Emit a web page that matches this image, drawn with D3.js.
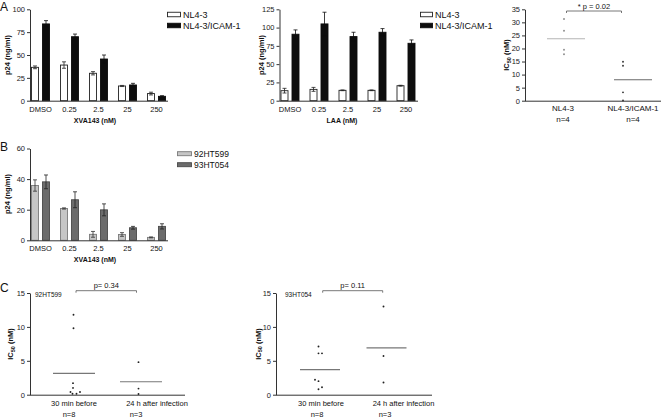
<!DOCTYPE html>
<html><head><meta charset="utf-8">
<script src="https://cdn.jsdelivr.net/npm/d3@7"></script>
<style>html,body{margin:0;padding:0;background:#fff}svg{display:block}</style>
</head><body>
<script>
// ---------- DATA ----------
const concCats = ["DMSO", "0.25", "2.5", "25", "250"];
const seriesA = ["NL4-3", "NL4-3/ICAM-1"];
const xvaNL43 = [36.5, 39, 30, 16.1, 7.8];
const xvaNL43Err = [1.5, 3.5, 1.8, 0.6, 1.5];
const xvaICAM = [84, 70, 45.6, 17.2, 4.8];
const xvaICAMErr = [3.6, 2.9, 4.4, 1.8, 0.7];
const laaNL43 = [13.7, 15.5, 14.2, 14.2, 20.5];
const laaNL43Err = [3.2, 2.7, 0.5, 0.5, 0.6];
const laaICAM = [90.9, 105, 87.7, 93.6, 78.5];
const laaICAMErr = [5.9, 16, 5.9, 5, 4.6];

const ic50Cats = ["NL4-3", "NL4-3/ICAM-1"];
const ic50N = ["n=4", "n=4"];
const ic50NL43 = [31.3, 26.8, 19.5, 17.8];
const ic50ICAM = [14.9, 13.4, 3.2, 0.1];
const ic50Means = [23.7, 8.0];
const ic50P = "* p = 0.02";

const seriesB = ["92HT599", "93HT054"];
const b599 = [35.8, 20.8, 3.9, 3.8, 1.9];
const b599Err = [3.7, 0.4, 1.9, 1.2, 0.3];
const b054 = [38.2, 26.5, 19.9, 8.2, 9.1];
const b054Err = [4.5, 5.2, 3.9, 0.9, 1.7];

const timeCats = ["30   min before", "24  h after infection"];
const timeN = ["n=8", "n=3"];
const c599Before = [11.8, 9.8, 1.7, 1.0, 0.4, 0.15, 0.15, 0.4];
const c599After = [4.8, 0.9, 0.1];
const c599Means = [3.15, 1.9];
const c599P = "p= 0.34";
const c054Before = [7.1, 6.1, 6.1, 2.2, 2.0, 1.1, 0.8];
const c054After = [13.0, 5.7, 1.8];
const c054Means = [3.7, 6.9];
const c054P = "p= 0.11";

const ticksA1 = [0, 25, 50, 75, 100];
const ticksA2 = [0, 25, 50, 75, 100, 125];
const ticksA3 = [0, 5, 10, 15, 20, 25, 30, 35];
const ticksB = [0, 20, 40, 60];
const ticksC = [0, 5, 10, 15];

// ---------- STYLE / LAYOUT ----------
const FONT = "'Liberation Sans', Arial, Helvetica, sans-serif";
const AX = "#333";
const W = 664, H = 418;
const svg = d3.select("body").append("svg").attr("width", W).attr("height", H)
  .style("font-family", FONT);
svg.append("rect").attr("width", W).attr("height", H).attr("fill", "#fff");

function yAxis(g, y, x, ticks) {
  const a = g.append("g").attr("transform", `translate(${x},0)`)
    .call(d3.axisLeft(y).tickValues(ticks).tickSize(3).tickPadding(2).tickSizeOuter(0));
  a.select(".domain").attr("stroke", AX).attr("stroke-width", 1);
  a.selectAll(".tick line").attr("stroke", AX);
  a.selectAll(".tick text").attr("fill", "#222").style("font-size", "7.5px").style("font-family", FONT);
  return a;
}
function xLine(g, y, x0, x1) {
  g.append("line").attr("x1", x0).attr("x2", x1).attr("y1", y(0) + 0.5).attr("y2", y(0) + 0.5)
    .attr("stroke", AX).attr("stroke-width", 1);
}
function yTitle(g, x, yc, parts) {
  const t = g.append("text").attr("transform", `translate(${x},${yc}) rotate(-90)`)
    .attr("text-anchor", "middle").style("font-size", "7.5px").style("font-weight", "bold").attr("fill", "#111");
  parts.forEach(p => {
    const ts = t.append("tspan").text(p.t);
    if (p.sub) ts.style("font-size", "5.5px").attr("dy", "1.5");
    if (p.after) ts.attr("dy", "-1.5");
  });
}
function text(g, x, y, s, size, anchor = "middle", weight = "normal") {
  return g.append("text").attr("x", x).attr("y", y).attr("text-anchor", anchor)
    .style("font-size", size + "px").style("font-weight", weight).attr("fill", "#111").text(s);
}

function barPanel(opts) {
  const g = svg.append("g");
  const { axisX, axisEnd, y, ticks, series } = opts;
  const off = axisX - 30;
  const x0 = d3.scaleBand().domain(concCats).range([26 + off, 171 + off])
    .paddingInner(10 / 29).paddingOuter(5 / 29);
  const x1 = d3.scaleBand().domain(series.map(s => s.name)).range([0, x0.bandwidth()])
    .paddingInner(3 / 11);
  series.forEach(s => {
    concCats.forEach((c, i) => {
      const bx = x0(c) + x1(s.name);
      g.append("rect").attr("x", bx + 0.5).attr("y", y(s.vals[i]))
        .attr("width", x1.bandwidth() - 1).attr("height", y(0) - y(s.vals[i]))
        .attr("fill", s.fill).attr("stroke", s.stroke).attr("stroke-width", 0.9);
    });
  });
  series.forEach(s => {
    concCats.forEach((c, i) => {
      const cx = x0(c) + x1(s.name) + x1.bandwidth() / 2;
      const v = s.vals[i], e = s.errs[i];
      const top = y(v + e), bot = y(Math.max(0, v - e));
      g.append("line").attr("x1", cx).attr("x2", cx).attr("y1", top).attr("y2", bot)
        .attr("stroke", s.err).attr("stroke-width", 0.8);
      [top, bot].forEach(yy => g.append("line").attr("x1", cx - 2).attr("x2", cx + 2)
        .attr("y1", yy).attr("y2", yy).attr("stroke", s.err).attr("stroke-width", 0.8));
    });
  });
  yAxis(g, y, axisX, ticks);
  xLine(g, y, axisX, axisEnd);
  concCats.forEach(c => text(g, x0(c) + x0.bandwidth() / 2, y(0) + 11, c, 7.5));
  return g;
}

// ---------- PANEL A1 ----------
const yA1 = d3.scaleLinear().domain([0, 100]).range([100.7, 9.3]);
const gA1 = barPanel({ axisX: 30, axisEnd: 168, y: yA1, ticks: ticksA1,
  series: [
    { name: seriesA[0], vals: xvaNL43, errs: xvaNL43Err, fill: "#fff", stroke: "#222", err: "#222" },
    { name: seriesA[1], vals: xvaICAM, errs: xvaICAMErr, fill: "#0d0d0d", stroke: "#0d0d0d", err: "#0d0d0d" }
  ] });
yTitle(gA1, 10, 55, [{ t: "p24 (ng/ml)" }]);
text(gA1, 95, 122.5, "XVA143 (nM)", 7, "middle", "bold");
text(svg, 0, 10.5, "A", 12, "start");

function legend(g, x, y0, dy, items, size, boxW, boxH) {
  items.forEach((it, i) => {
    const yy = y0 + i * dy;
    g.append("rect").attr("x", x + 0.5).attr("y", yy - boxH / 2).attr("width", boxW).attr("height", boxH)
      .attr("fill", it.fill).attr("stroke", it.stroke).attr("stroke-width", 0.9);
    text(g, x + boxW + 3, yy + size * 0.35, it.name, size, "start");
  });
}
legend(gA1, 167, 14.5, 11, [
  { name: seriesA[0], fill: "#fff", stroke: "#222" },
  { name: seriesA[1], fill: "#0d0d0d", stroke: "#0d0d0d" }], 9, 13, 4.5);

// ---------- PANEL A2 ----------
const yA2 = d3.scaleLinear().domain([0, 125]).range([100.7, 9.3]);
const gA2 = barPanel({ axisX: 279.5, axisEnd: 418, y: yA2, ticks: ticksA2,
  series: [
    { name: seriesA[0], vals: laaNL43, errs: laaNL43Err, fill: "#fff", stroke: "#222", err: "#222" },
    { name: seriesA[1], vals: laaICAM, errs: laaICAMErr, fill: "#0d0d0d", stroke: "#0d0d0d", err: "#0d0d0d" }
  ] });
yTitle(gA2, 263.5, 55, [{ t: "p24 (ng/ml)" }]);
text(gA2, 342, 122.5, "LAA (nM)", 7, "middle", "bold");
legend(gA2, 420, 14.5, 11, [
  { name: seriesA[0], fill: "#fff", stroke: "#222" },
  { name: seriesA[1], fill: "#0d0d0d", stroke: "#0d0d0d" }], 9, 12, 4.5);

// ---------- scatter helper ----------
function scatterPanel(opts) {
  const g = svg.append("g");
  const { axisX, axisEnd, y, ticks, cats, groups, means, dx, meanColors, dotColors, halfW, labelDx, catY, nY, nLabels, catSize, p, pX } = opts;
  const x = d3.scalePoint().domain(cats).range(opts.catRange);
  yAxis(g, y, axisX, ticks);
  xLine(g, y, axisX, axisEnd);
  cats.forEach((c, i) => {
    g.append("line").attr("x1", x(c) - halfW).attr("x2", x(c) + halfW)
      .attr("y1", y(means[i])).attr("y2", y(means[i]))
      .attr("stroke", meanColors[i]).attr("stroke-width", 1.1);
    groups[i].forEach((v, k) => {
      g.append("circle").attr("cx", x(c) + dx[i][k]).attr("cy", y(v)).attr("r", 0.95)
        .attr("fill", dotColors[i]);
    });
    text(g, x(c) + labelDx[i], catY, c, catSize);
    text(g, x(c) + opts.nDx[i], nY, nLabels[i], catSize);
  });
  // significance bracket
  const by = opts.bracketY, bx0 = opts.bracket[0], bx1 = opts.bracket[1];
  g.append("path").attr("d", `M${bx0},${by + 2}V${by}H${bx1}V${by + 2}`)
    .attr("fill", "none").attr("stroke", "#555").attr("stroke-width", 0.8);
  text(g, (bx0 + bx1) / 2, by - 2.5, p, 7.5);
  return g;
}

// ---------- PANEL A3 ----------
const yA3 = d3.scaleLinear().domain([0, 35]).range([100.7, 9.3]);
const gA3 = scatterPanel({ axisX: 525, axisEnd: 661, y: yA3, ticks: ticksA3, cats: ic50Cats,
  catRange: [566, 633], groups: [ic50NL43, ic50ICAM], means: ic50Means,
  dx: [[-2, -2, -2, -2], [-10, -10, -10, -10]], meanColors: ["#b5b5b5", "#6a6a6a"],
  dotColors: ["#8a8a8a", "#333"], halfW: 19, labelDx: [-3, 0], nDx: [-3, 0],
  catY: 111, nY: 121.5, nLabels: ic50N, catSize: 8, p: ic50P, pX: 0,
  bracket: [566.5, 621.5], bracketY: 11 });
yTitle(gA3, 509, 55, [{ t: "IC" }, { t: "50", sub: true }, { t: " (nM)", after: true }]);

// ---------- PANEL B ----------
const yB = d3.scaleLinear().domain([0, 60]).range([240.3, 148.5]);
const gB = barPanel({ axisX: 30, axisEnd: 168, y: yB, ticks: ticksB,
  series: [
    { name: seriesB[0], vals: b599, errs: b599Err, fill: "#c6c6c6", stroke: "#7a7a7a", err: "#333" },
    { name: seriesB[1], vals: b054, errs: b054Err, fill: "#6c6c6c", stroke: "#4a4a4a", err: "#222" }
  ] });
yTitle(gB, 10, 194, [{ t: "p24 (ng/ml)" }]);
text(gB, 95, 261.5, "XVA143 (nM)", 7, "middle", "bold");
text(svg, 0, 150.5, "B", 12, "start");
legend(gB, 177, 153.7, 11, [
  { name: seriesB[0], fill: "#c6c6c6", stroke: "#7a7a7a" },
  { name: seriesB[1], fill: "#6c6c6c", stroke: "#4a4a4a" }], 8.5, 14, 4);

// ---------- PANEL C ----------
const yC = d3.scaleLinear().domain([0, 15]).range([394.7, 293]);
const gC1 = scatterPanel({ axisX: 30, axisEnd: 185, y: yC, ticks: ticksC, cats: timeCats,
  catRange: [74, 141], groups: [c599Before, c599After], means: c599Means,
  dx: [[-0.5, -0.5, -1, -1, -3.5, -1.5, 2.5, 6], [-2.5, -2.5, -2.5]],
  meanColors: ["#777", "#777"], dotColors: ["#222", "#222"], halfW: 21,
  labelDx: [0, 16], nDx: [-5, -5], catY: 406, nY: 417.3, nLabels: timeN, catSize: 7.5,
  p: c599P, bracket: [76, 136.5], bracketY: 290.7 });
yTitle(gC1, 13, 344, [{ t: "IC" }, { t: "50", sub: true }, { t: " (nM)", after: true }]);
text(gC1, 35, 297, "92HT599", 6.5, "start");
text(svg, 0, 292, "C", 12, "start");

const gC2 = scatterPanel({ axisX: 276, axisEnd: 432, y: yC, ticks: ticksC, cats: timeCats,
  catRange: [320, 386.5], groups: [c054Before, c054After], means: c054Means,
  dx: [[-1.5, -1.5, 2, -5, -1.5, 2, -1.5], [-3, -3, -3]],
  meanColors: ["#777", "#777"], dotColors: ["#222", "#222"], halfW: 20,
  labelDx: [1, 17], nDx: [-3, -1.5], catY: 406, nY: 417.3, nLabels: timeN, catSize: 7.5,
  p: c054P, bracket: [322.7, 382.7], bracketY: 290.7 });
yTitle(gC2, 260.5, 344, [{ t: "IC" }, { t: "50", sub: true }, { t: " (nM)", after: true }]);
text(gC2, 285, 297, "93HT054", 6.5, "start");
</script>
</body></html>
